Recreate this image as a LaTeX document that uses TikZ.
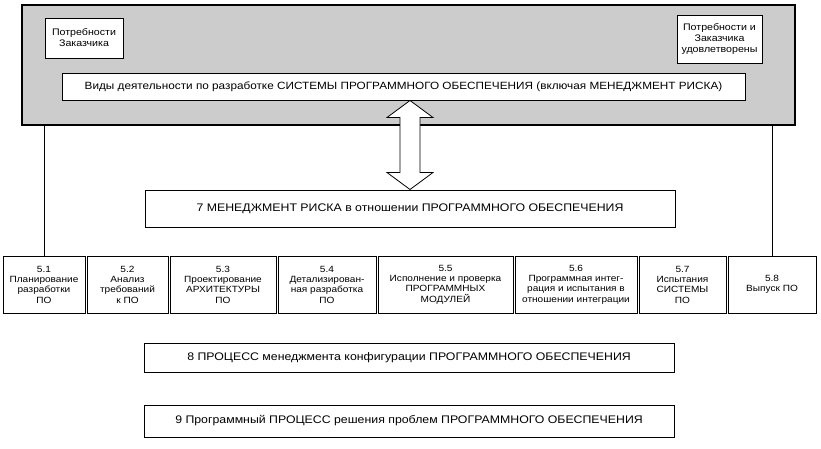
\documentclass[tikz,border=0pt]{standalone}
\usepackage{fontspec}
\setmainfont{Liberation Sans}[FakeStretch=1.12]
\usetikzlibrary{calc}
\tikzset{
	outerbox/.style ={rectangle, draw=black, line width=1.2pt, fill=black!20},
	needbox/.style  ={rectangle, draw=black, line width=1pt, fill=white, align=center, inner sep=1pt, font=\fontsize{9.5}{11}\selectfont},
	actbox/.style   ={rectangle, draw=black, line width=1pt, fill=white, align=center, font=\fontsize{10.5}{12}\selectfont},
	procbox/.style  ={rectangle, draw=black, line width=1pt, fill=white, align=center, minimum width=530pt, font=\fontsize{11}{12}\selectfont},
	% one stage of the row 5.x
	stagebox/.style ={rectangle, draw=black, line width=1pt, fill=white, align=center, inner sep=0pt, minimum height=57pt, font=\fontsize{9}{10.3}\selectfont},
	conn/.style     ={line width=0.9pt},
	bigarrow/.style ={draw=black, line width=0.8pt, fill=white, line join=miter},
}
\begin{document}
\begin{tikzpicture}[x=1pt, y=-1pt]
	\useasboundingbox (0,0) rectangle (821,448);
	% field of the activities
	\node[outerbox, minimum width=773pt, minimum height=120pt] (field) at (408.5,65) {};
	\node[needbox, minimum width=78pt, minimum height=40pt] (need) at (84,38) {Потребности\\Заказчика};
	\node[needbox, minimum width=85pt, minimum height=48pt] (done) at (719.5,39) {Потребности и\\Заказчика\\удовлетворены};
	\node[actbox, minimum width=683pt, minimum height=27pt] (acts) at (403.5,86.5) {Виды деятельности по разработке СИСТЕМЫ ПРОГРАММНОГО ОБЕСПЕЧЕНИЯ (включая МЕНЕДЖМЕНТ РИСКА)};
	% processes
	\node[procbox, minimum height=37pt] (risk) at (410,208.5) {7 МЕНЕДЖМЕНТ РИСКА в отношении ПРОГРАММНОГО ОБЕСПЕЧЕНИЯ};
	\node[procbox, minimum height=29pt] (cfg) at (409,357.5) {8 ПРОЦЕСС менеджмента конфигурации ПРОГРАММНОГО ОБЕСПЕЧЕНИЯ};
	\node[procbox, minimum height=32pt] (prob) at (409,421) {9 Программный ПРОЦЕСС решения проблем ПРОГРАММНОГО ОБЕСПЕЧЕНИЯ};
	% row of the stages
	\foreach \n/\xa/\xb/\txt in {
		1/2/86/{5.1\\Планирование\\разработки\\ПО},
		2/86/169/{5.2\\Анализ\\требований\\к ПО},
		3/169/277/{5.3\\Проектирование\\АРХИТЕКТУРЫ\\ПО},
		4/277/377/{5.4\\Детализирован-\\ная разработка\\ПО},
		5/377/514/{5.5\\Исполнение и проверка\\ПРОГРАММНЫХ\\МОДУЛЕЙ},
		6/514/638/{5.6\\Программная интег-\\рация и испытания в\\отношении интеграции},
		7/638/727/{5.7\\Испытания\\СИСТЕМЫ\\ПО},
		8/727/817/{5.8\\Выпуск ПО}} {
		\node[stagebox, minimum width={(\xb-\xa-2)*1pt}] (s\n) at ({(\xa+\xb)/2},284.5) {\txt};
	}
	% links
	\draw[conn] (s1.north |- field.south) -- (s1.north);
	\draw[conn] (s8.north |- field.south) -- (s8.north);
	\coordinate (au) at (acts.south -| risk.north);
	\draw[bigarrow] (au) -- ++(23,17) -- ++(-13,0) -- ($(risk.north)+(10,-17)$) -- ++(13,0)
		-- (risk.north) -- ++(-23,-17) -- ++(13,0) -- ($(au)+(-10,17)$) -- ++(-13,0) -- cycle;
\end{tikzpicture}
\end{document}
